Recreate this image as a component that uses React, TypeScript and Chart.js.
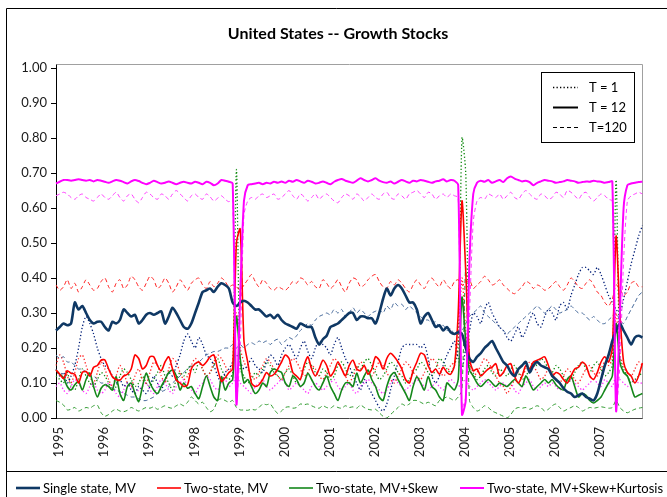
import React, { useEffect, useRef } from 'react';
import { Chart, registerables } from 'chart.js';

Chart.register(...registerables);

// ---- axis labels ----
const yearLabels = ['1995', '1996', '1997', '1998', '1999', '2000', '2001', '2002', '2003', '2004', '2005', '2006', '2007'];
const monthLabels: string[] = [];
yearLabels.forEach((y) => {
  for (let m = 1; m <= 12; m++) monthLabels.push(y + '-' + (m < 10 ? '0' + m : '' + m));
});
monthLabels.push('2008-01');

const title = 'United States -- Growth Stocks';
const seriesNames = ['Single state, MV', 'Two-state, MV', 'Two-state, MV+Skew', 'Two-state, MV+Skew+Kurtosis'];
const horizonNames = ['T = 1', 'T = 12', 'T=120'];

// ---- Single state, MV ----
const singleT12 = [
  .25, .26, .27, .265, .27, .33, .31, .32, .30, .28, .27, .275,
  .275, .26, .25, .275, .27, .28, .31, .30, .29, .295, .27, .28,
  .295, .30, .295, .30, .305, .27, .29, .315, .30, .28, .26, .255,
  .27, .30, .33, .36, .365, .37, .36, .375, .385, .38, .37, .33,
  .32, .33, .335, .33, .32, .31, .31, .30, .29, .295, .285, .295,
  .28, .27, .265, .26, .255, .27, .265, .26, .26, .23, .21, .225,
  .235, .26, .265, .27, .28, .29, .30, .30, .28, .29, .29, .285,
  .285, .27, .30, .34, .37, .35, .37, .38, .37, .35, .33, .33,
  .31, .27, .29, .30, .28, .26, .265, .25, .26, .245, .24, .245,
  .24, .20, .17, .16, .175, .185, .20, .21, .22, .20, .18, .16,
  .15, .13, .12, .14, .15, .16, .13, .15, .16, .15, .145, .14,
  .12, .11, .10, .085, .075, .07, .06, .065, .07, .06, .055, .05,
  .07, .11, .15, .18, .22, .25, .27, .25, .23, .21, .23, .235,
  .23,
];
const singleT120 = [
  .18, .17, .175, .16, .16, .15, .14, .14, .13, .12, .12, .11,
  .10, .10, .09, .085, .08, .075, .07, .065, .06, .06, .055, .05,
  .05, .055, .06, .07, .075, .08, .09, .10, .11, .12, .13, .14,
  .15, .155, .16, .17, .18, .185, .19, .19, .195, .20, .20, .21,
  .20, .21, .20, .21, .215, .21, .22, .215, .22, .21, .22, .225,
  .21, .22, .23, .225, .235, .25, .26, .27, .265, .28, .29, .295,
  .30, .295, .31, .30, .31, .29, .30, .315, .30, .31, .30, .29,
  .30, .305, .31, .30, .32, .31, .33, .32, .325, .31, .32, .31,
  .30, .29, .28, .28, .27, .275, .26, .265, .25, .255, .24, .25,
  .25, .27, .29, .30, .31, .32, .30, .29, .28, .27, .26, .25,
  .24, .25, .26, .27, .28, .29, .30, .31, .32, .31, .30, .31,
  .32, .31, .30, .305, .31, .32, .31, .30, .30, .29, .28, .29,
  .28, .27, .27, .28, .29, .30, .28, .27, .29, .31, .33, .35,
  .36,
];
const singleT1 = [
  .14, .12, .13, .10, .12, .15, .20, .26, .29, .27, .24, .20,
  .17, .15, .14, .12, .10, .11, .09, .10, .08, .07, .09, .08,
  .07, .09, .12, .10, .08, .11, .13, .12, .15, .18, .22, .24,
  .22, .20, .23, .21, .18, .17, .15, .12, .10, .13, .14, .16,
  .18, .16, .14, .15, .17, .15, .14, .13, .16, .18, .17, .15,
  .18, .20, .21, .19, .17, .20, .22, .19, .17, .20, .22, .21,
  .20, .18, .21, .23, .20, .17, .15, .12, .10, .08, .11, .09,
  .07, .05, .03, .02, .04, .08, .12, .16, .20, .21, .21, .21,
  .21, .20, .21, .17, .12, .10, .12, .15, .18, .20, .22, .17,
  .14, .20, .25, .30, .29, .27, .31, .33, .30, .28, .26, .25,
  .23, .22, .24, .26, .23, .25, .28, .30, .27, .26, .29, .31,
  .30, .28, .32, .33, .31, .35, .38, .41, .43, .43, .42, .41,
  .43, .41, .38, .35, .33, .31, .30, .34, .39, .44, .48, .52,
  .55,
];

// ---- Two-state, MV ----
const twoMvT12 = [
  .137, .125, .113, .135, .128, .125, .100, .130, .133, .120, .145, .150,
  .165, .166, .140, .118, .110, .108, .120, .125, .140, .180, .170, .140,
  .150, .175, .175, .150, .135, .160, .175, .140, .108, .100, .090, .095,
  .140, .155, .160, .150, .160, .175, .180, .140, .105, .115, .130, .140,
  .500, .540, .220, .160, .100, .090, .095, .110, .130, .120, .125, .140,
  .160, .180, .170, .130, .120, .110, .150, .175, .140, .120, .140, .165,
  .150, .120, .135, .160, .140, .120, .150, .165, .140, .135, .150, .125,
  .140, .175, .165, .140, .170, .185, .175, .160, .140, .110, .100, .135,
  .160, .185, .180, .150, .130, .140, .125, .145, .130, .125, .150, .300,
  .620, .420, .170, .135, .140, .120, .130, .140, .145, .155, .120, .130,
  .150, .155, .120, .100, .120, .150, .140, .160, .165, .170, .175, .150,
  .120, .130, .125, .110, .100, .120, .140, .145, .160, .150, .120, .110,
  .130, .160, .175, .160, .200, .520, .300, .160, .130, .120, .100, .120,
  .157,
];
const twoMvT120 = [
  .380, .365, .375, .395, .370, .385, .360, .375, .395, .380, .365, .370,
  .390, .400, .375, .360, .385, .395, .370, .380, .405, .395, .375, .365,
  .385, .405, .395, .370, .380, .400, .385, .360, .375, .395, .380, .365,
  .385, .395, .400, .380, .370, .390, .375, .385, .400, .390, .375, .380,
  .375, .365, .380, .395, .410, .390, .375, .395, .385, .370, .365, .375,
  .370, .365, .375, .390, .385, .400, .395, .380, .390, .375, .370, .395,
  .385, .370, .380, .395, .375, .360, .385, .400, .395, .375, .380, .395,
  .405, .410, .390, .375, .370, .390, .380, .395, .385, .370, .360, .380,
  .395, .380, .370, .390, .400, .385, .375, .395, .380, .370, .390, .395,
  .380, .385, .395, .370, .380, .390, .405, .395, .380, .385, .395, .380,
  .370, .360, .355, .365, .375, .390, .385, .370, .380, .375, .365, .370,
  .380, .390, .375, .365, .380, .400, .390, .375, .370, .385, .395, .380,
  .360, .350, .330, .320, .340, .380, .370, .350, .360, .385, .390, .375,
  .375,
];
const twoMvT1 = [
  .15, .18, .16, .12, .10, .13, .17, .18, .15, .12, .10, .13,
  .16, .14, .11, .09, .12, .15, .13, .10, .09, .12, .14, .11,
  .10, .13, .16, .15, .12, .10, .14, .17, .16, .13, .11, .12,
  .15, .17, .16, .14, .12, .13, .16, .18, .17, .15, .13, .16,
  .30, .20, .16, .14, .12, .11, .13, .15, .17, .16, .14, .12,
  .11, .13, .15, .17, .16, .14, .12, .13, .15, .14, .12, .11,
  .13, .15, .17, .16, .14, .12, .10, .12, .14, .16, .15, .13,
  .12, .14, .16, .15, .13, .11, .10, .12, .14, .16, .15, .13,
  .12, .11, .13, .15, .17, .16, .14, .12, .13, .15, .16, .22,
  .40, .25, .15, .12, .13, .15, .17, .16, .14, .12, .10, .09,
  .07, .09, .11, .13, .12, .14, .16, .15, .13, .11, .12, .14,
  .13, .11, .10, .12, .14, .13, .11, .10, .12, .14, .15, .13,
  .12, .14, .16, .15, .17, .30, .18, .15, .13, .12, .14, .16,
  .15,
];

// ---- Two-state, MV+Skew ----
const skewT12 = [
  .137, .125, .115, .090, .080, .095, .105, .080, .110, .128, .090, .060,
  .085, .095, .090, .080, .118, .070, .050, .090, .100, .070, .047, .090,
  .128, .100, .080, .070, .090, .110, .130, .137, .120, .080, .100, .085,
  .090, .070, .055, .090, .120, .090, .060, .050, .118, .080, .100, .110,
  .290, .170, .100, .110, .090, .070, .080, .100, .090, .130, .140, .135,
  .130, .100, .090, .120, .110, .090, .100, .128, .110, .090, .080, .100,
  .120, .090, .070, .050, .080, .100, .100, .090, .128, .100, .120, .137,
  .110, .090, .060, .050, .090, .120, .130, .110, .090, .070, .050, .090,
  .118, .100, .080, .118, .090, .080, .060, .050, .100, .090, .080, .110,
  .345, .220, .137, .120, .100, .090, .100, .110, .100, .090, .100, .095,
  .090, .100, .110, .100, .090, .120, .100, .080, .090, .100, .110, .100,
  .110, .095, .085, .080, .110, .120, .090, .060, .070, .065, .050, .043,
  .050, .060, .080, .100, .120, .270, .160, .130, .120, .090, .060, .065,
  .070,
];
const skewT120 = [
  .050, .045, .037, .023, .025, .030, .020, .025, .030, .028, .035, .037,
  .015, .005, .010, .020, .025, .020, .018, .022, .030, .025, .020, .025,
  .030, .028, .032, .025, .030, .035, .030, .028, .035, .040, .035, .045,
  .060, .050, .040, .045, .030, .018, .025, .050, .055, .050, .045, .050,
  .030, .023, .023, .022, .025, .023, .030, .040, .038, .040, .025, .013,
  .020, .030, .032, .028, .030, .040, .038, .040, .035, .030, .028, .035,
  .030, .028, .035, .030, .028, .035, .030, .032, .028, .037, .030, .025,
  .023, .025, .015, .005, .000, .010, .020, .030, .040, .035, .040, .050,
  .050, .045, .040, .045, .040, .035, .050, .055, .060, .055, .050, .060,
  .080, .430, .050, .030, .020, .025, .035, .030, .020, .015, .010, .005,
  .000, .010, .025, .030, .028, .030, .025, .030, .035, .030, .020, .025,
  .035, .040, .030, .020, .025, .030, .035, .030, .020, .025, .030, .028,
  .030, .032, .030, .028, .030, .050, .030, .020, .015, .020, .025, .028,
  .030,
];
const skewT1 = [
  .12, .11, .10, .13, .09, .08, .11, .14, .12, .10, .09, .11,
  .13, .12, .10, .08, .09, .12, .14, .13, .11, .09, .10, .12,
  .10, .09, .11, .13, .15, .12, .10, .08, .11, .13, .12, .14,
  .15, .13, .16, .14, .12, .13, .15, .17, .14, .12, .11, .13,
  .71, .14, .12, .10, .11, .13, .12, .14, .16, .15, .13, .12,
  .11, .13, .14, .12, .10, .11, .14, .16, .15, .13, .12, .14,
  .13, .11, .12, .15, .16, .14, .12, .13, .15, .14, .16, .17,
  .15, .13, .11, .12, .14, .16, .15, .13, .12, .10, .11, .13,
  .14, .16, .15, .13, .12, .14, .17, .16, .14, .13, .15, .20,
  .80, .70, .16, .13, .11, .12, .14, .15, .13, .12, .14, .13,
  .12, .14, .15, .13, .11, .12, .14, .16, .15, .17, .16, .14,
  .13, .15, .14, .12, .10, .11, .13, .15, .16, .14, .13, .15,
  .16, .14, .12, .13, .15, .68, .17, .14, .12, .10, .11, .12,
  .13,
];

// ---- Two-state, MV+Skew+Kurtosis ----
const kurtT12 = [
  .670, .675, .680, .680, .678, .680, .682, .680, .678, .680, .676, .680,
  .678, .675, .672, .676, .680, .678, .674, .670, .676, .680, .677, .672,
  .668, .672, .678, .674, .670, .672, .676, .672, .668, .672, .675, .672,
  .670, .675, .672, .668, .675, .672, .665, .670, .680, .678, .675, .670,
  .040, .350, .620, .665, .668, .670, .672, .668, .672, .670, .675, .672,
  .676, .672, .678, .675, .680, .676, .672, .678, .675, .670, .672, .676,
  .672, .668, .675, .680, .683, .678, .675, .672, .678, .685, .680, .676,
  .680, .685, .678, .674, .672, .676, .670, .675, .680, .676, .672, .678,
  .676, .680, .678, .675, .672, .676, .678, .682, .676, .680, .678, .665,
  .010, .050, .450, .640, .672, .678, .675, .680, .672, .676, .680, .674,
  .685, .690, .684, .680, .676, .678, .674, .665, .672, .676, .680, .678,
  .676, .672, .674, .676, .680, .678, .676, .672, .674, .676, .675, .678,
  .676, .675, .672, .674, .676, .020, .300, .600, .665, .670, .672, .674,
  .675,
];
const kurtT120 = [
  .635, .640, .645, .640, .630, .625, .635, .640, .630, .625, .620, .630,
  .640, .630, .625, .635, .645, .630, .620, .635, .640, .625, .615, .630,
  .645, .640, .630, .625, .640, .635, .625, .640, .650, .640, .630, .620,
  .635, .640, .630, .625, .640, .632, .620, .628, .635, .625, .618, .625,
  .050, .200, .580, .620, .630, .625, .635, .640, .630, .635, .640, .625,
  .630, .640, .650, .635, .625, .640, .632, .620, .630, .640, .625, .635,
  .640, .630, .620, .615, .630, .640, .635, .625, .640, .632, .620, .630,
  .640, .630, .625, .640, .645, .630, .625, .640, .635, .625, .640, .645,
  .650, .640, .630, .645, .640, .625, .635, .640, .630, .640, .635, .630,
  .030, .060, .300, .560, .620, .630, .625, .640, .635, .630, .640, .625,
  .635, .645, .630, .625, .640, .650, .640, .630, .625, .640, .635, .625,
  .630, .645, .640, .630, .650, .645, .635, .625, .640, .645, .630, .620,
  .630, .640, .635, .625, .620, .030, .150, .450, .620, .635, .640, .645,
  .640,
];
const kurtT1 = [
  .09, .10, .08, .07, .09, .11, .10, .08, .07, .09, .10, .08,
  .07, .08, .10, .09, .07, .06, .08, .10, .09, .07, .08, .09,
  .10, .08, .07, .09, .11, .10, .08, .07, .09, .10, .11, .09,
  .08, .07, .09, .10, .12, .11, .09, .08, .10, .11, .09, .10,
  .12, .10, .09, .08, .07, .09, .10, .11, .09, .08, .09, .10,
  .11, .10, .08, .09, .10, .09, .08, .07, .09, .10, .09, .08,
  .09, .10, .11, .09, .08, .09, .10, .08, .07, .09, .10, .11,
  .10, .09, .08, .07, .08, .10, .11, .10, .09, .08, .09, .10,
  .11, .10, .09, .08, .09, .10, .09, .08, .10, .11, .10, .09,
  .10, .11, .09, .08, .09, .10, .11, .10, .09, .08, .09, .10,
  .09, .10, .08, .07, .09, .10, .11, .09, .08, .09, .10, .09,
  .10, .09, .08, .09, .10, .11, .10, .09, .08, .09, .10, .11,
  .10, .09, .11, .10, .09, .12, .11, .10, .09, .10, .11, .10,
  .10,
];

const NAVY = '#0F3864';
const RED = '#FF0000';
const GREEN = '#14871A';
const MAGENTA = '#FF00FF';

const DASH = [4, 3];
const DOT = [1.3, 2.2];

function ds(label: string, data: number[], color: string, width: number, dash: number[]) {
  return {
    label,
    data,
    borderColor: color,
    backgroundColor: color,
    borderWidth: width,
    borderDash: dash,
    pointRadius: 0,
    pointHoverRadius: 0,
    fill: false,
    tension: 0.25,
  };
}

const FONT = 'Lato, "Open Sans", sans-serif';

const decor = {
  id: 'decor',
  beforeDraw(chart: any) {
    const ctx = chart.ctx;
    ctx.save();
    ctx.fillStyle = '#ffffff';
    ctx.fillRect(0, 0, chart.width, chart.height);
    ctx.restore();
  },
  beforeDatasetsDraw(chart: any) {
    const { ctx, chartArea: a } = chart;
    ctx.save();
    ctx.strokeStyle = '#a0a0a0';
    ctx.lineWidth = 1;
    ctx.beginPath();
    ctx.moveTo(Math.round(a.left) + 0.5, Math.round(a.top) - 3.5);
    ctx.lineTo(Math.round(a.right) + 0.5, Math.round(a.top) - 3.5);
    ctx.lineTo(Math.round(a.right) + 0.5, Math.round(a.bottom) + 0.5);
    ctx.stroke();
    ctx.strokeStyle = '#000';
    ctx.beginPath();
    ctx.moveTo(Math.round(a.left) + 0.5, Math.round(a.top) - 3.5);
    ctx.lineTo(Math.round(a.left) + 0.5, Math.round(a.top));
    ctx.stroke();
    ctx.restore();
  },
  afterDraw(chart: any) {
    const ctx = chart.ctx;
    ctx.save();
    // outer frame
    ctx.strokeStyle = '#000';
    ctx.lineWidth = 1;
    ctx.beginPath();
    ctx.moveTo(6.5, 497);
    ctx.lineTo(6.5, 8.5);
    ctx.lineTo(667, 8.5);
    ctx.stroke();
    ctx.beginPath();
    ctx.moveTo(6.5, 471.5);
    ctx.lineTo(667, 471.5);
    ctx.stroke();

    // title
    ctx.fillStyle = '#000';
    ctx.font = 'bold 16px ' + FONT;
    ctx.textAlign = 'center';
    ctx.textBaseline = 'middle';
    ctx.fillText(title, 338, 34);

    // horizon legend box
    ctx.fillStyle = '#fff';
    ctx.fillRect(541.5, 72.5, 93, 70);
    ctx.strokeStyle = '#000';
    ctx.strokeRect(541.5, 72.5, 93, 70);
    const rows = [
      { y: 87, dash: DOT, w: 1.3 },
      { y: 107, dash: [], w: 2 },
      { y: 127, dash: DASH, w: 1 },
    ];
    ctx.font = '13px ' + FONT;
    ctx.textAlign = 'left';
    rows.forEach((r, k) => {
      ctx.setLineDash(r.dash);
      ctx.lineWidth = r.w;
      ctx.strokeStyle = '#000';
      ctx.beginPath();
      ctx.moveTo(553, r.y + 0.5);
      ctx.lineTo(578, r.y + 0.5);
      ctx.stroke();
      ctx.setLineDash([]);
      ctx.fillStyle = '#000';
      ctx.fillText(horizonNames[k], 589, r.y + 1);
    });

    // series legend
    const items = [
      { x: 16, color: NAVY, w: 2.6 },
      { x: 157, color: RED, w: 1.6 },
      { x: 289, color: GREEN, w: 1.6 },
      { x: 460, color: MAGENTA, w: 2 },
    ];
    items.forEach((it, k) => {
      ctx.strokeStyle = it.color;
      ctx.lineWidth = it.w;
      ctx.beginPath();
      ctx.moveTo(it.x, 488);
      ctx.lineTo(it.x + 24, 488);
      ctx.stroke();
      ctx.fillStyle = '#000';
      ctx.fillText(seriesNames[k], it.x + 27, 489);
    });
    ctx.restore();
  },
};

export default function App() {
  const ref = useRef<HTMLCanvasElement | null>(null);
  useEffect(() => {
    if (!ref.current) return;
    Chart.defaults.font.family = FONT;
    Chart.defaults.font.size = 13;
    Chart.defaults.color = '#1a1a1a';
    const chart = new Chart(ref.current, {
      type: 'line',
      data: {
        labels: monthLabels,
        datasets: [
          ds('Two-state, MV+Skew+Kurtosis T=12', kurtT12, MAGENTA, 2, []),
          ds('Single state, MV T=12', singleT12, NAVY, 2.6, []),
          ds('Two-state, MV T=12', twoMvT12, RED, 1.6, []),
          ds('Two-state, MV+Skew T=12', skewT12, GREEN, 1.6, []),
          ds('Two-state, MV+Skew+Kurtosis T=120', kurtT120, '#FF3CFF', 1, DASH),
          ds('Single state, MV T=120', singleT120, '#46699A', 1, DASH),
          ds('Two-state, MV T=120', twoMvT120, '#FF2020', 1, DASH),
          ds('Two-state, MV+Skew T=120', skewT120, '#2E9A2E', 1, DASH),
          ds('Single state, MV T=1', singleT1, '#001E78', 1.3, DOT),
          ds('Two-state, MV T=1', twoMvT1, '#FF2A2A', 1.3, DOT),
          ds('Two-state, MV+Skew T=1', skewT1, '#0F8A0F', 1.3, DOT),
          ds('Two-state, MV+Skew+Kurtosis T=1', kurtT1, '#FF33FF', 1.3, DOT),
        ],
      },
      options: {
        responsive: false,
        animation: false,
        events: [],
        layout: { padding: { left: 0, right: 24, top: 68, bottom: 0 } },
        plugins: {
          legend: { display: false },
          title: { display: false },
          tooltip: { enabled: false },
        },
        scales: {
          x: {
            type: 'category',
            offset: false,
            grid: { display: true, drawOnChartArea: false, drawTicks: false },
            border: { display: true, color: '#444', width: 1 },
            ticks: {
              autoSkip: false,
              maxRotation: 90,
              minRotation: 90,
              padding: 9,
              labelOffset: 3,
              color: '#1a1a1a',
              font: { size: 13, family: FONT },
              callback: (_v: any, i: number) => {
                const lab = monthLabels[i];
                return lab.endsWith('-01') && yearLabels.includes(lab.slice(0, 4)) ? lab.slice(0, 4) : '';
              },
            },
            afterFit: (s: any) => { s.height = 79; },
          },
          y: {
            min: 0,
            max: 1,
            grid: { display: true, drawOnChartArea: false, drawTicks: true, tickLength: 5, tickColor: '#000' },
            border: { display: true, color: '#000', width: 1 },
            ticks: {
              stepSize: 0.1,
              padding: 4,
              color: '#1a1a1a',
              font: { size: 13, family: FONT },
              callback: (v: any) => Number(v).toFixed(2),
            },
            afterFit: (s: any) => { s.width = 56; },
          },
        },
      },
      plugins: [decor],
    } as any);
    return () => chart.destroy();
  }, []);

  return (
    <div style={{ position: 'absolute', left: 0, top: 0, width: 667, height: 497, background: '#fff' }}>
      <canvas ref={ref} width={667} height={497} style={{ display: 'block' }} />
    </div>
  );
}
